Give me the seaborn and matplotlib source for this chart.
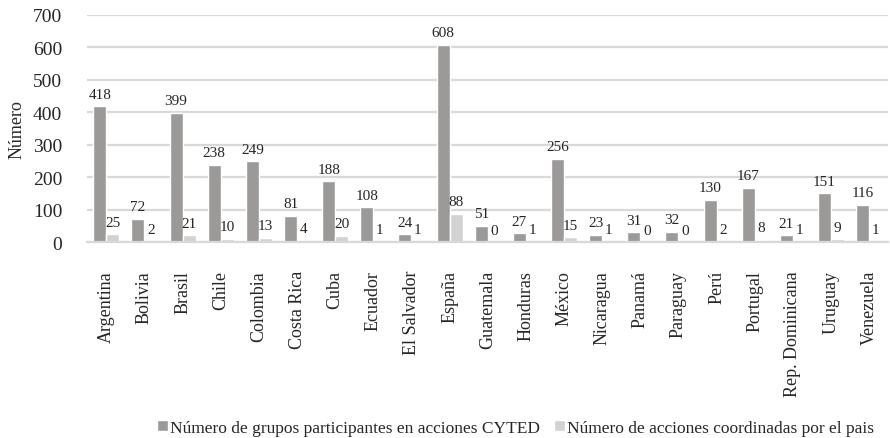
import pandas as pd
import matplotlib
matplotlib.use("Agg")
import matplotlib.pyplot as plt
import seaborn as sns

# data
paises = ["Argentina", "Bolivia", "Brasil", "Chile", "Colombia", "Costa Rica",
          "Cuba", "Ecuador", "El Salvador", "España", "Guatemala", "Honduras",
          "México", "Nicaragua", "Panamá", "Paraguay", "Perú", "Portugal",
          "Rep. Dominicana", "Uruguay", "Venezuela"]
grupos = [418, 72, 399, 238, 249, 81, 188, 108, 24, 608, 51, 27, 256, 23, 31,
          32, 130, 167, 21, 151, 116]
acciones = [25, 2, 21, 10, 13, 4, 20, 1, 1, 88, 0, 1, 15, 1, 0, 0, 2, 8, 1, 9, 1]
serie1 = "Número de grupos participantes en acciones CYTED"
serie2 = "Número de acciones coordinadas por el pais"

df = pd.DataFrame({
    "pais": paises * 2,
    "valor": grupos + acciones,
    "serie": [serie1] * len(paises) + [serie2] * len(paises),
})

sns.set_style("white")
plt.rcParams["font.family"] = ["Liberation Serif", "DejaVu Serif"]

fig = plt.figure(figsize=(8.9, 4.39), dpi=100)
ax = fig.add_axes([0.098, 0.446, 0.9, 0.518])

sns.barplot(data=df, x="pais", y="valor", hue="serie",
            palette=["#9c9a99", "#d2d2d2"], width=0.68, saturation=1,
            ax=ax, legend=True)

for cont in ax.containers:
    ax.bar_label(cont, fontsize=11, padding=4)

ax.set_ylim(0, 700)
ax.set_yticks(range(0, 701, 100))
ax.yaxis.grid(True, color="#d9d9d9", linewidth=1.6)
ax.set_axisbelow(True)
for s in ["top", "right", "left"]:
    ax.spines[s].set_visible(False)
ax.spines["bottom"].set_color("#d9d9d9")
ax.spines["bottom"].set_linewidth(1.6)
ax.tick_params(axis="y", labelsize=14, length=0, pad=18)
ax.tick_params(axis="x", labelsize=13, length=0, rotation=90, pad=20)
ax.set_xlabel("")
ax.set_ylabel("Número", fontsize=13, labelpad=4)
ax.yaxis.set_label_coords(-0.077, 0.5)
ax.set_xlim(-0.5, len(paises) - 0.5)

ax.legend(loc="center", bbox_to_anchor=(0.535, -0.815), ncol=2,
          frameon=False, fontsize=12.5, handlelength=0.6, handleheight=0.6,
          handletextpad=0.15, columnspacing=0.8)

fig.savefig("out.png", dpi=100)
